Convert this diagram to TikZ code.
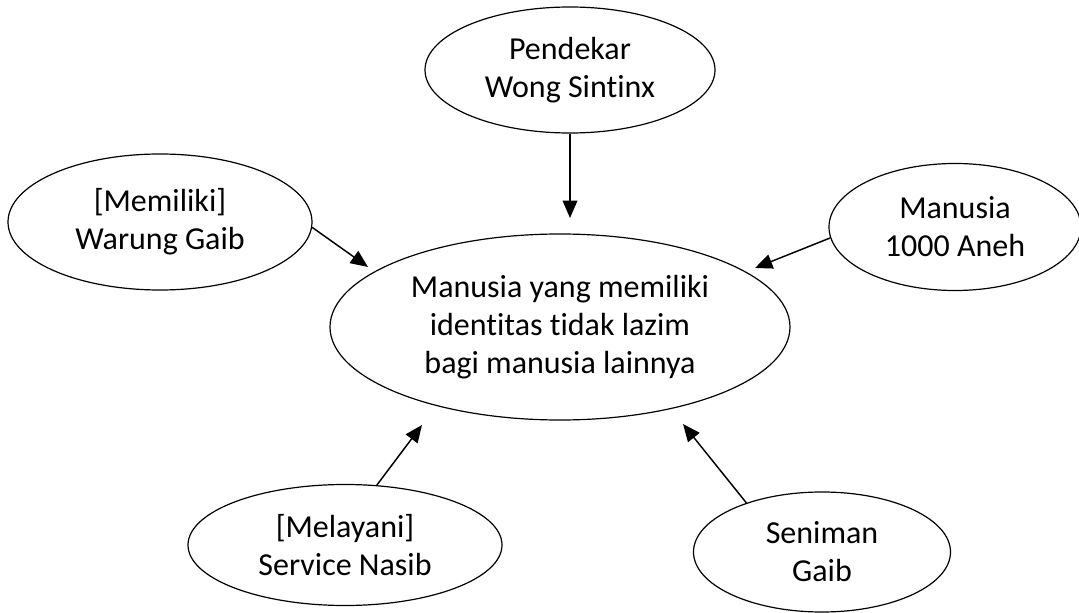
\documentclass[tikz,border=0pt]{standalone}
\usepackage{fontspec}
\setmainfont{Carlito}[Ligatures=NoCommon]
\usepackage{tikz}
\usetikzlibrary{shapes.geometric,arrows.meta}

\begin{document}
\begin{tikzpicture}[
      x=0.75pt, y=-0.75pt,
      type-idea/.style={ellipse, draw=black, fill=white, line width=0.9pt, inner sep=0pt,
        align=center, font=\fontsize{24}{28.5}\selectfont},
      type-root/.style={type-idea, minimum width=345pt, minimum height=139.5pt},
      link/.style={-{Triangle[length=13pt,width=11pt]}, line width=1.1pt}
    ]
      \useasboundingbox (0,0) rectangle (1079,613);
      \node[type-root] (root) at (560,327) {Manusia yang memiliki\\identitas tidak lazim\\bagi manusia lainnya};
      \node[type-idea, minimum width=217.5pt, minimum height=94.5pt] (pendekar) at (570,70) {Pendekar\\Wong Sintinx};
      \node[type-idea, minimum width=228pt, minimum height=102pt] (warung) at (160,222) {[Memiliki]\\Warung Gaib};
      \node[type-idea, minimum width=189pt, minimum height=95.25pt] (aneh) at (955,227) {Manusia\\1000 Aneh};
      \node[type-idea, minimum width=235.5pt, minimum height=90.75pt] (nasib) at (345,545) {[Melayani]\\Service Nasib};
      \node[type-idea, minimum width=192.75pt, minimum height=90pt] (gaib) at (822,552) {Seniman\\Gaib};
      \coordinate (tip-top) at (570,218);
      \coordinate (tip-left) at (368,267);
      \coordinate (tip-right) at (755,268);
      \coordinate (tip-bl) at (422,425);
      \coordinate (tip-br) at (683,424);
      \draw[link] (pendekar.south) -- (tip-top);
      \draw[link] (warung.-2) -- (tip-left);
      \draw[link] (aneh.185) -- (tip-right);
      \draw[link] (nasib.62) -- (tip-bl);
      \draw[link] (gaib.147) -- (tip-br);
    \end{tikzpicture}
\end{document}
